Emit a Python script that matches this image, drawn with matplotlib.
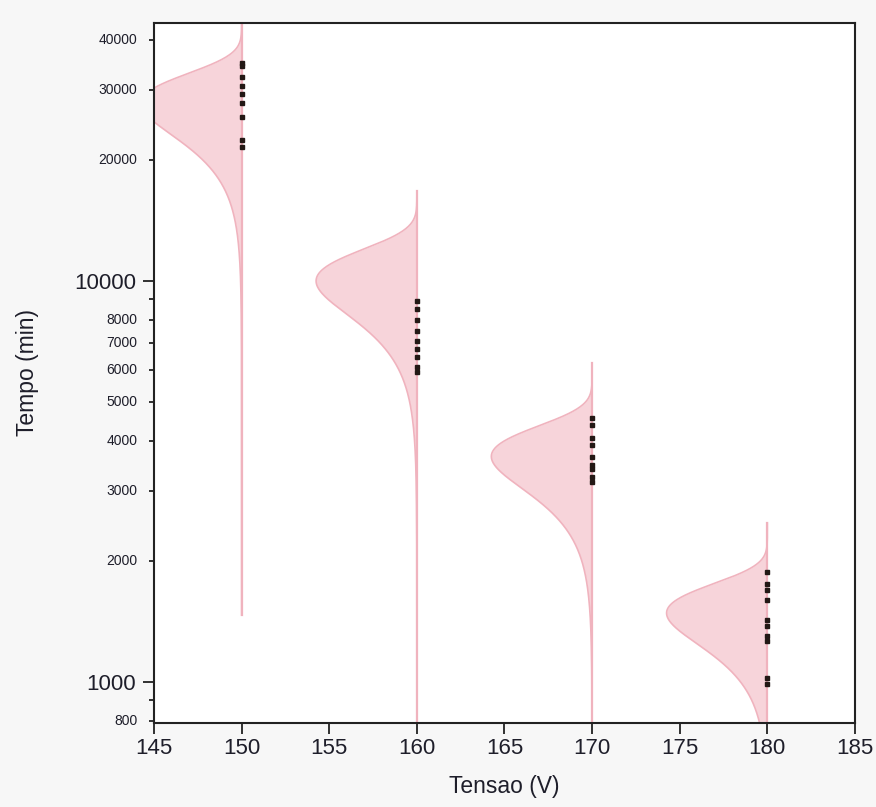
import numpy as np
import matplotlib.pyplot as plt
from matplotlib.ticker import FixedLocator, NullFormatter

# voltage levels (x) and the failure times (min)
voltages = [150, 160, 170, 180]
times_150 = [35060, 34460, 32360, 30730, 29350, 27720, 25590, 22420, 21540]
times_160 = [8917, 8518, 7995, 7509, 7090, 6774, 6471, 6109, 5937]
times_170 = [4562, 4385, 4058, 3908, 3649, 3485, 3406, 3236, 3144]
times_180 = [1877, 1753, 1694, 1600, 1426, 1378, 1301, 1265, 1023, 989]
times = [times_150, times_160, times_170, times_180]

# fitted distribution curves (Weibull): mode, shape and the drawn range
curve_mode = [27720, 10000, 3650, 1485]
curve_shape = [5.5, 5.2, 5.4, 5.6]
curve_lo = [1468, 500, 500, 500]
curve_hi = [60000, 16750, 6250, 2490]
curve_width = 5.75

major_ticks = [1000, 10000]
minor_labels = [800, 2000, 3000, 4000, 5000, 6000, 7000, 8000, 20000, 30000, 40000]
minor_unlabeled = [900, 9000]

fill_col = "#f7d4da"
edge_col = "#f0b3be"
bg_col = "#f7f7f7"
ink = "#1e1e2a"

plt.rcParams['font.family'] = ['Liberation Sans', 'DejaVu Sans']

fig = plt.figure(figsize=(8.76, 8.07), dpi=100, facecolor=bg_col)
ax = fig.add_axes([0.1758, 0.1041, 0.8002, 0.8674])
ax.set_facecolor("white")
ax.set_yscale("log")

for i, v in enumerate(voltages):
    u = np.linspace(np.log10(curve_lo[i]), np.log10(curve_hi[i]), 800)
    z = curve_shape[i] * np.log(10) * (u - np.log10(curve_mode[i]))
    rel = np.exp(z - np.exp(z) + 1)
    t = 10 ** u
    left = v - curve_width * rel
    ax.fill_betweenx(t, left, v, color=fill_col, lw=0, zorder=1)
    ax.plot(left, t, color=edge_col, lw=1.2, zorder=2)
    ax.plot([v, v], [t[0], t[-1]], color=edge_col, lw=1.6, zorder=2)
    ax.plot([v] * len(times[i]), times[i], ls="none", marker="s",
            ms=3.4, color="#231815", zorder=3)

ax.set_xlim(145, 185)
ax.set_ylim(790, 44000)
ax.set_xticks(np.arange(145, 186, 5))

ax.yaxis.set_major_locator(FixedLocator(major_ticks))
ax.set_yticklabels([str(m) for m in major_ticks])
ax.yaxis.set_minor_locator(FixedLocator(minor_labels + minor_unlabeled))
ax.yaxis.set_minor_formatter(NullFormatter())
for m in minor_labels:
    ax.text(-0.024, m, str(m), transform=ax.get_yaxis_transform(),
            ha="right", va="center", fontsize=10, color=ink)

ax.tick_params(axis="both", which="major", labelsize=16, length=8, width=1.3,
               color="#222222", labelcolor=ink)
ax.tick_params(axis="x", which="major", pad=2.5)
ax.tick_params(axis="y", which="major", pad=5)
ax.tick_params(axis="y", which="minor", length=3.8, width=1.3, color="#222222")
for sp in ax.spines.values():
    sp.set_linewidth(1.5)
    sp.set_color("#222222")

ax.set_xlabel("Tensao (V)", fontsize=16.5, color=ink)
ax.xaxis.label.set_va("center")
ax.xaxis.set_label_coords(0.5, -0.0914)
ax.set_ylabel("Tempo (min)", fontsize=16.5, color=ink)
ax.yaxis.label.set_va("center")
ax.yaxis.set_label_coords(-0.181, 0.5)

fig.savefig("out.png", dpi=100, facecolor=bg_col)
